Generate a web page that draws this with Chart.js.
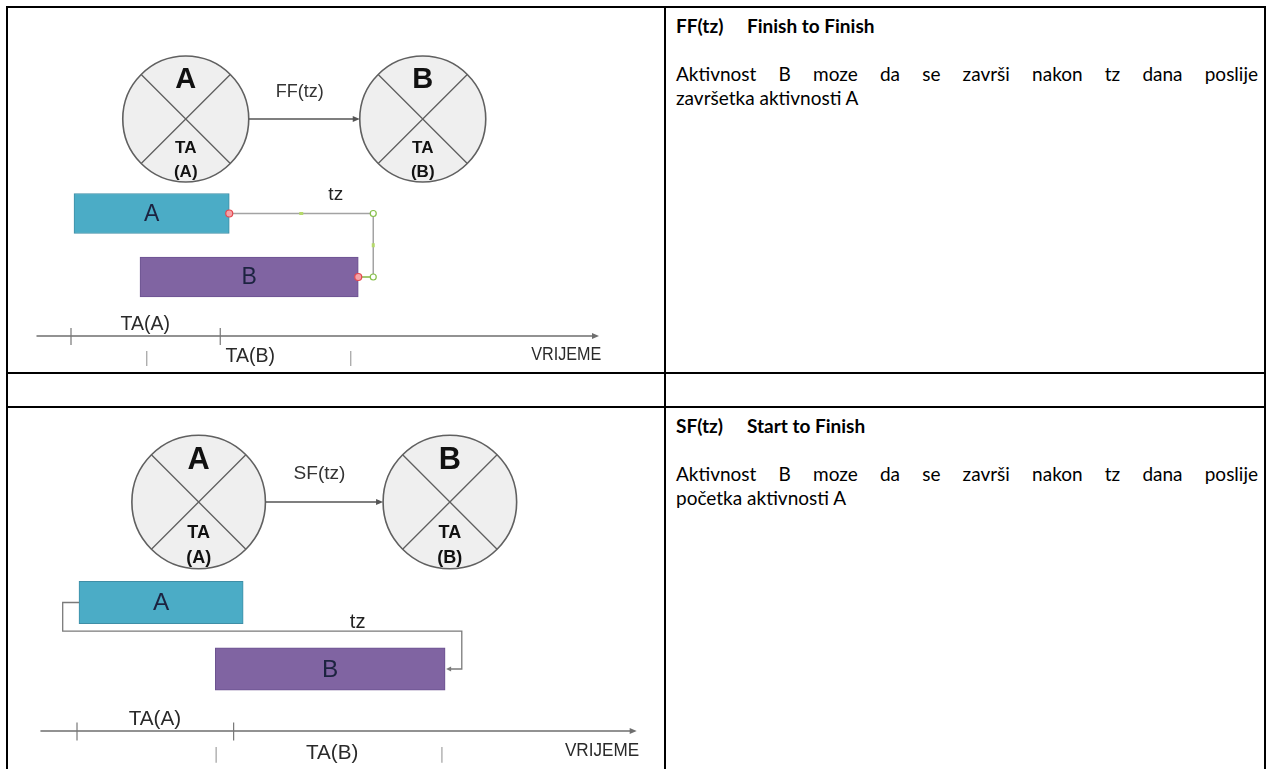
<!DOCTYPE html>
<html>
<head>
<meta charset="utf-8">
<script src="https://cdn.jsdelivr.net/npm/chart.js@4.4.0/dist/chart.umd.min.js"></script>
<style>
  html, body { margin: 0; padding: 0; background: #fff; }
  body { width: 1272px; height: 769px; position: relative; overflow: hidden; font-family: Lato, "Noto Sans", sans-serif; color: #000; }
  .wrap { position: absolute; left: 0; width: 665px; }
  .ln { position: absolute; background: #000; }
  .txt { position: absolute; left: 676px; width: 582px; font-size: 19px; line-height: 24px; white-space: nowrap; }
  .head { font-weight: bold; }
  .head span { display: inline-block; width: 71px; }
  .just { text-align: justify; text-align-last: justify; }
</style>
</head>
<body>
<div class="wrap" style="top:0;height:373px"><canvas id="ffChart"></canvas></div>
<div class="wrap" style="top:407px;height:362px"><canvas id="sfChart"></canvas></div>

<div class="ln" style="left:6px;top:6px;width:1260px;height:2px"></div>
<div class="ln" style="left:6px;top:372px;width:1260px;height:2px"></div>
<div class="ln" style="left:6px;top:406px;width:1260px;height:2px"></div>
<div class="ln" style="left:6px;top:6px;width:2px;height:763px"></div>
<div class="ln" style="left:664px;top:6px;width:2px;height:763px"></div>
<div class="ln" style="left:1264px;top:6px;width:2px;height:763px"></div>

<div class="txt head" style="top:14px"><span>FF(tz)</span>Finish to Finish</div>
<div class="txt" style="top:62px">
  <div class="just">Aktivnost B moze da se završi nakon tz dana poslije</div>
  <div>završetka aktivnosti A</div>
</div>
<div class="txt head" style="top:414px"><span>SF(tz)</span>Start to Finish</div>
<div class="txt" style="top:462px">
  <div class="just">Aktivnost B moze da se završi nakon tz dana poslije</div>
  <div>početka aktivnosti A</div>
</div>

<script>
// vrijeme je u danima, procjena sa slike
const activities = ['A', 'B'];
const nodeDays = [15.3, 46.9];
const timeAxisDays = [-4.6, 70.4];
const vrijemeDay = 70.7;
const relLabelDay = 30.5;
const lagLabelDay = 35.3;

const ffBars = [[0.4, 21.1], [9.2, 38.3]];
const ffLagDay = 40.3;
const ffTicksA = [0, 19.9];
const ffTicksB = [10.1, 37.3];
const ffTaLabels = [9.9, 23.9];

const sfBars = [[0.25, 20.9], [17.4, 46.3]];
const sfLagDays = [-1.8, 48.4];
const sfTicksA = [0, 19.7];
const sfTicksB = [17.5, 45.9];
const sfTaLabels = [9.8, 32.1];

const barFill = ['#4bacc6', '#8064a2'];
const barEdge = ['#3f8ea6', '#6b5290'];
const FONT = '"Liberation Sans", Arial, sans-serif';

function arrowHead(ctx, xt, yt, dx, dy, len, half) {
  // dx,dy = smjer strelice
  ctx.beginPath();
  ctx.moveTo(xt, yt);
  ctx.lineTo(xt - dx * len - dy * half, yt - dy * len - dx * half);
  ctx.lineTo(xt - dx * len + dy * half, yt - dy * len + dx * half);
  ctx.closePath();
  ctx.fill();
}

function dot(ctx, x, y, r, stroke, fill) {
  ctx.beginPath();
  ctx.arc(x, y, r, 0, Math.PI * 2);
  ctx.fillStyle = fill;
  ctx.fill();
  ctx.lineWidth = 1.2;
  ctx.strokeStyle = stroke;
  ctx.stroke();
}

const diagramPlugin = {
  id: 'diagram',
  afterDatasetsDraw(chart, args, o) {
    const { ctx, chartArea: area, scales: { x, y } } = chart;
    const k = o.k;
    const px = (d) => x.getPixelForValue(d);
    ctx.save();
    ctx.textAlign = 'center';
    ctx.textBaseline = 'middle';

    // cvorovi A i B
    const cy = area.top - o.nodeGap;
    const r = 63 * k;
    const c = Math.SQRT1_2 * r;
    activities.forEach((name, i) => {
      const cx = px(nodeDays[i]);
      ctx.beginPath();
      ctx.arc(cx, cy, r, 0, Math.PI * 2);
      ctx.fillStyle = '#efefef';
      ctx.fill();
      ctx.lineWidth = 1.6;
      ctx.strokeStyle = '#606060';
      ctx.stroke();
      ctx.beginPath();
      ctx.moveTo(cx - c, cy - c); ctx.lineTo(cx + c, cy + c);
      ctx.moveTo(cx + c, cy - c); ctx.lineTo(cx - c, cy + c);
      ctx.lineWidth = 1.3;
      ctx.stroke();
      ctx.fillStyle = '#111';
      ctx.font = `bold ${29 * k}px ${FONT}`;
      ctx.fillText(name, cx, cy - 39 * k);
      ctx.font = `bold ${17 * k}px ${FONT}`;
      ctx.fillText('TA', cx, cy + 29 * k);
      ctx.fillText('(' + name + ')', cx, cy + 53 * k);
    });
    const a0 = px(nodeDays[0]) + r, a1 = px(nodeDays[1]) - r;
    ctx.strokeStyle = '#555';
    ctx.fillStyle = '#555';
    ctx.lineWidth = 1.3;
    ctx.beginPath();
    ctx.moveTo(a0, cy); ctx.lineTo(a1 - 4, cy);
    ctx.stroke();
    arrowHead(ctx, a1, cy, 1, 0, 7, 3);
    ctx.fillStyle = '#333';
    ctx.font = `${18 * k}px ${FONT}`;
    ctx.fillText(o.relation, px(relLabelDay), cy - 27 * k);

    // oznake u trakama
    const bars = chart.data.datasets[0].data;
    ctx.fillStyle = '#1c2340';
    ctx.font = `${23 * k}px ${FONT}`;
    bars.forEach((b, i) => {
      ctx.fillText(activities[i], (px(b[0]) + px(b[1])) / 2, y.getPixelForValue(i) + 1);
    });

    // veza tz
    const yA = y.getPixelForValue(0), yB = y.getPixelForValue(1);
    ctx.font = `${19 * k}px ${FONT}`;
    if (o.link === 'FF') {
      const xa = px(bars[0][1]), xl = px(ffLagDay), xb = px(bars[1][1]);
      ctx.strokeStyle = '#a3a3a3';
      ctx.lineWidth = 1.5;
      ctx.beginPath();
      ctx.moveTo(xa, yA); ctx.lineTo(xl, yA); ctx.lineTo(xl, yB); ctx.lineTo(xb, yB);
      ctx.stroke();
      ctx.strokeStyle = '#9ccc5a';
      ctx.beginPath();
      ctx.moveTo(xb + 3, yB); ctx.lineTo(xl, yB);
      ctx.stroke();
      ctx.fillStyle = '#b5d96b';
      ctx.fillRect((xa + xl) / 2 - 2, yA - 1.5, 4, 3);
      ctx.fillRect(xl - 1.5, (yA + yB) / 2 - 2, 3, 4);
      dot(ctx, xa, yA, 3.5, '#e5484f', '#f5a3a8');
      dot(ctx, xb, yB, 3.5, '#e5484f', '#f5a3a8');
      dot(ctx, xl, yA, 3, '#86bf4a', '#fff');
      dot(ctx, xl, yB, 3, '#86bf4a', '#fff');
      ctx.fillStyle = '#222';
      ctx.fillText('tz', px(lagLabelDay), yA - 18.5 * k);
    } else {
      const xa = px(bars[0][0]), xl = px(sfLagDays[0]), xr = px(sfLagDays[1]), xb = px(bars[1][1]);
      const ym = yA + 27 * k;
      ctx.strokeStyle = '#7a7a7a';
      ctx.fillStyle = '#7a7a7a';
      ctx.lineWidth = 1.3;
      ctx.beginPath();
      ctx.moveTo(xa, yA); ctx.lineTo(xl, yA); ctx.lineTo(xl, ym);
      ctx.lineTo(xr, ym); ctx.lineTo(xr, yB); ctx.lineTo(xb + 4, yB);
      ctx.stroke();
      arrowHead(ctx, xb + 1, yB, -1, 0, 5, 2.5);
      ctx.fillStyle = '#222';
      ctx.fillText('tz', px(lagLabelDay), ym - 8 * k);
    }

    // os vremena
    const yx = area.bottom + o.axisGap;
    const x0 = px(timeAxisDays[0]), x1 = px(timeAxisDays[1]);
    ctx.strokeStyle = '#6e6e6e';
    ctx.fillStyle = '#6e6e6e';
    ctx.lineWidth = 1.3;
    ctx.beginPath();
    ctx.moveTo(x0, yx); ctx.lineTo(x1 - 5, yx);
    ctx.stroke();
    arrowHead(ctx, x1, yx, 1, 0, 7, 3);
    ctx.strokeStyle = '#777';
    ctx.lineWidth = 1.2;
    o.ticksA.forEach((d) => {
      ctx.beginPath();
      ctx.moveTo(px(d), yx - 8 * k); ctx.lineTo(px(d), yx + 9 * k);
      ctx.stroke();
    });
    ctx.strokeStyle = '#a0a0a0';
    o.ticksB.forEach((d) => {
      ctx.beginPath();
      ctx.moveTo(px(d), yx + 15 * k); ctx.lineTo(px(d), yx + 30 * k);
      ctx.stroke();
    });
    ctx.fillStyle = '#2a2a2a';
    ctx.font = `${19.5 * k}px ${FONT}`;
    ctx.fillText('TA(A)', px(o.taLabels[0]), yx - 11 * k);
    ctx.fillText('TA(B)', px(o.taLabels[1]), yx + 21 * k);
    ctx.textAlign = 'right';
    ctx.font = `${18 * k}px ${FONT}`;
    ctx.fillText('VRIJEME', px(vrijemeDay), yx + 19 * k, 70 * k);
    ctx.restore();
  }
};

function makeChart(id, bars, opt) {
  return new Chart(document.getElementById(id), {
    type: 'bar',
    data: {
      labels: activities,
      datasets: [{
        data: bars,
        backgroundColor: barFill,
        borderColor: barEdge,
        borderWidth: 1,
        borderSkipped: false,
        barThickness: 40 * opt.k,
      }],
    },
    options: {
      indexAxis: 'y',
      responsive: true,
      maintainAspectRatio: false,
      animation: false,
      layout: { padding: { top: opt.padTop, bottom: opt.padBottom, left: 0, right: 0 } },
      scales: {
        x: { type: 'linear', min: opt.min, max: opt.max, display: false },
        y: { display: false },
      },
      plugins: {
        legend: { display: false },
        tooltip: { enabled: false },
        diagram: opt,
      },
    },
    plugins: [diagramPlugin],
  });
}

makeChart('ffChart', ffBars, {
  k: 1, padTop: 181.75, padBottom: 64.25, min: -9.467, max: 79.2,
  nodeGap: 62.75, axisGap: 27.25, link: 'FF', relation: 'FF(tz)',
  ticksA: ffTicksA, ticksB: ffTicksB, taLabels: ffTaLabels,
});
makeChart('sfChart', sfBars, {
  k: 1.06, padTop: 162.25, padBottom: 66.75, min: -9.686, max: 73.96,
  nodeGap: 67.25, axisGap: 28.75, link: 'SF', relation: 'SF(tz)',
  ticksA: sfTicksA, ticksB: sfTicksB, taLabels: sfTaLabels,
});
</script>
</body>
</html>
